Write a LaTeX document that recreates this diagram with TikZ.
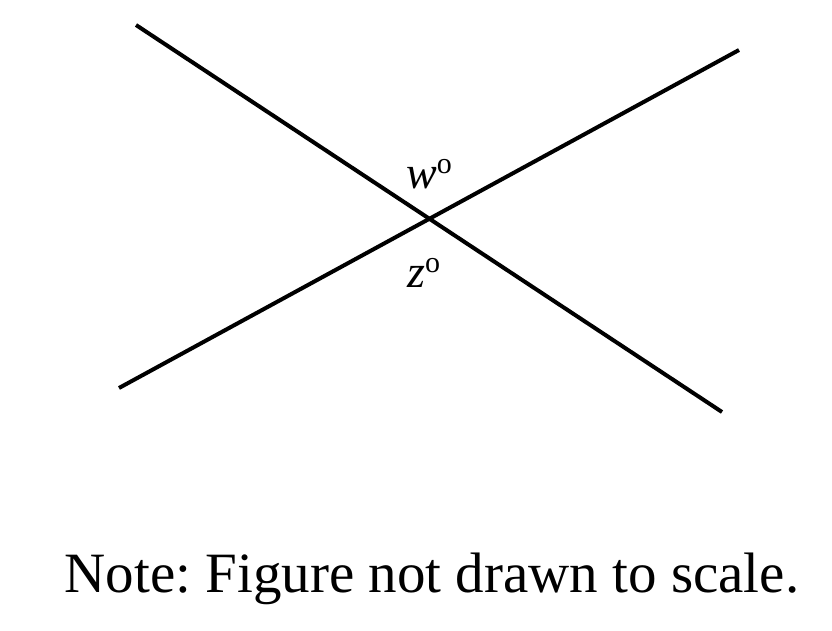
\documentclass[tikz,border=0pt]{standalone}
\usepackage{fontspec}
\setmainfont{Liberation Serif}
\begin{document}
\frenchspacing
\begin{tikzpicture}[x=1pt,y=-1pt,
  ln/.style={line width=4pt},
  lbl/.style={inner sep=0pt,font=\fontsize{46}{50}\selectfont}]
\useasboundingbox (0,0) rectangle (832,630);
\coordinate (a1) at (136,25);
\coordinate (a2) at (722,412);
\coordinate (b1) at (119,388);
\coordinate (b2) at (739,50);
\draw[ln] (a1) -- (a2);
\draw[ln] (b1) -- (b2);
\node[lbl,anchor=base west] (w) at (406,188) {\textit{w}\raisebox{15pt}{\fontsize{30}{32}\selectfont o}};
\node[lbl,anchor=base west] (z) at (407,287) {\textit{z}\raisebox{15pt}{\fontsize{30}{32}\selectfont o}};
\node[inner sep=0pt,anchor=base,font=\fontsize{57}{64}\selectfont] (note) at (432,592) {Note: Figure not drawn to scale.};
\end{tikzpicture}
\end{document}
